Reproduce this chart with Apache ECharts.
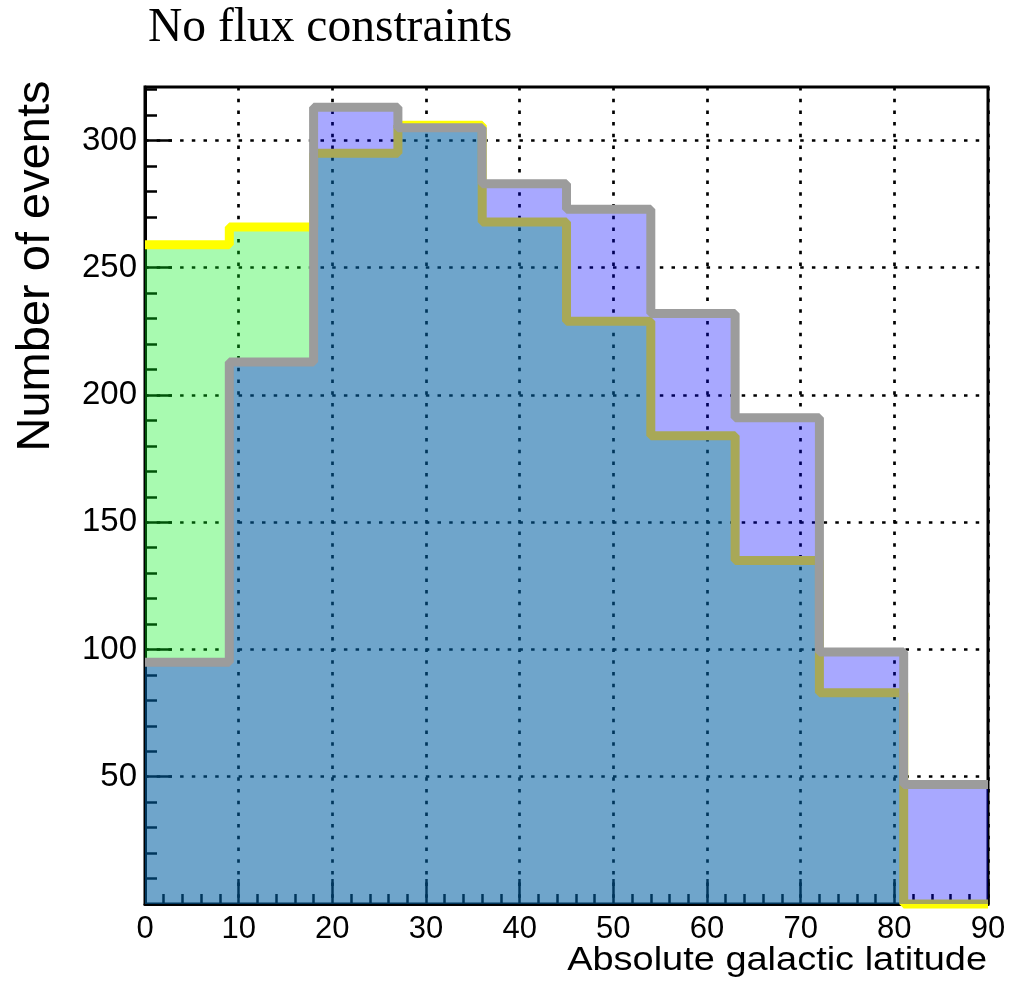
<!DOCTYPE html>
<html>
<head>
<meta charset="utf-8">
<script src="https://cdn.jsdelivr.net/npm/echarts@6/dist/echarts.min.js"></script>
<style>
  html, body { margin: 0; padding: 0; background: #fff; }
  #chart { width: 1010px; height: 989px; }
</style>
</head>
<body>
<div id="chart"></div>
<script>
// bin edges (absolute galactic latitude, deg)
const binEdges = [0, 9, 18, 27, 36, 45, 54, 63, 72, 81, 90]
// yellow outlined histogram (green fill)
const yellowCounts = [259, 266, 295, 306, 268, 229, 184, 135, 83, 0]
// grey outlined histogram (blue fill)
const greyCounts = [95, 213, 313, 305, 283, 273, 232, 191, 99, 47]

const xTicks = [0, 10, 20, 30, 40, 50, 60, 70, 80, 90]
const yMajorTicks = [50, 100, 150, 200, 250, 300]
const yMinorTicks = [10, 20, 30, 40, 60, 70, 80, 90, 110, 120, 130, 140, 160, 170, 180, 190,
  210, 220, 230, 240, 260, 270, 280, 290, 310, 320]

// step line needs one point per left edge plus the closing right edge
function stepData (counts) {
  var out = []
  binEdges.forEach((e, i) => {
    out.push([e, counts[Math.min(i, counts.length - 1)]])
  })
  return out
}

var chart = echarts.init(document.getElementById('chart'))

const font = '"Liberation Sans", Arial, Helvetica, sans-serif'
const dotted = { color: '#000', width: 2.7, type: [3.5, 8.2] }

var option = {
  animation: false,
  grid: {
    left: 145,
    right: 22,
    top: 87,
    bottom: 85,
    show: true,
    borderColor: '#000',
    borderWidth: 3,
    backgroundColor: 'transparent'
  },
  xAxis: {
    type: 'value',
    min: 0,
    max: 90,
    interval: 10,
    axisLine: { show: true, lineStyle: { color: '#000', width: 3 } },
    axisTick: { show: true, inside: true, length: 25, lineStyle: { color: '#000', width: 2.5 } },
    minorTick: { show: true, splitNumber: 5, length: 10, lineStyle: { color: '#000', width: 2.5 } },
    axisLabel: {
      customValues: xTicks,
      margin: 10,
      color: '#000',
      fontSize: 31,
      fontFamily: font
    },
    splitLine: { show: true, lineStyle: dotted }
  },
  yAxis: [{
    type: 'value',
    min: 0,
    max: 321,
    interval: 50,
    axisLine: { show: true, lineStyle: { color: '#000', width: 3 } },
    axisTick: { show: true, inside: true, length: 27, customValues: yMajorTicks, lineStyle: { color: '#000', width: 2.5 } },
    axisLabel: {
      customValues: yMajorTicks,
      margin: 8,
      color: '#000',
      fontSize: 33,
      fontFamily: font
    },
    splitLine: { show: true, lineStyle: dotted }
  }, {
    type: 'value',
    min: 0,
    max: 321,
    interval: 10,
    position: 'left',
    axisLine: { show: false },
    axisTick: { show: true, inside: true, length: 12, customValues: yMinorTicks, lineStyle: { color: '#000', width: 2.5 } },
    axisLabel: { show: false },
    splitLine: { show: false }
  }],
  series: [{
    name: 'yellow',
    type: 'line',
    step: 'end',
    z: 2,
    data: stepData(yellowCounts),
    showSymbol: false,
    clip: false,
    silent: true,
    lineStyle: { color: '#ffff00', width: 9 },
    areaStyle: { color: 'rgb(0, 240, 23)', opacity: 0.34, origin: 'start' }
  }, {
    name: 'grey',
    type: 'line',
    step: 'end',
    z: 3,
    data: stepData(greyCounts),
    showSymbol: false,
    clip: false,
    silent: true,
    lineStyle: { color: '#9c9c9c', width: 9 },
    areaStyle: { color: 'rgb(0, 0, 255)', opacity: 0.34, origin: 'start' }
  }],
  graphic: [{
    type: 'text',
    x: 148,
    y: 29,
    style: {
      text: 'No flux constraints',
      font: '47.5px "Liberation Serif", "Times New Roman", serif',
      fill: '#000',
      align: 'left',
      verticalAlign: 'middle'
    }
  }, {
    type: 'text',
    x: 36,
    y: 266,
    rotation: Math.PI / 2,
    style: {
      text: 'Number of events',
      font: '47px ' + font,
      fill: '#000',
      align: 'center',
      verticalAlign: 'middle'
    }
  }, {
    type: 'text',
    x: 987,
    y: 961,
    scaleX: 1.15,
    style: {
      text: 'Absolute galactic latitude',
      font: '33px ' + font,
      fill: '#000',
      align: 'right',
      verticalAlign: 'middle'
    }
  }]
}

chart.setOption(option)
</script>
</body>
</html>
